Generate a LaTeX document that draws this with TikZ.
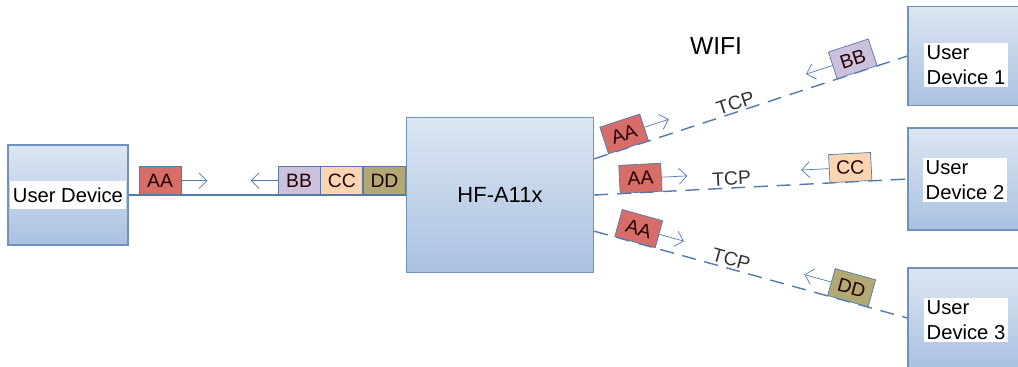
\documentclass[tikz,border=0pt]{standalone}
\usepackage{fontspec}
\setmainfont{Liberation Sans}
\usetikzlibrary{arrows.meta, positioning, calc}

\definecolor{boxedge}{HTML}{7090BE}
\definecolor{boxtop}{HTML}{DCE6F2}
\definecolor{boxbot}{HTML}{A9C1E0}
\definecolor{linkcol}{HTML}{5479AB}
\definecolor{aacol}{HTML}{D66D68}
\definecolor{bbcol}{HTML}{CCC1DD}
\definecolor{cccol}{HTML}{FBD4B2}
\definecolor{ddcol}{HTML}{B1A973}

\begin{document}
\begin{tikzpicture}[
    x=0.02cm, y=-0.02cm,
    every node/.style={font=\fontsize{11}{13}\selectfont},
    box/.style={draw=boxedge, thick, top color=boxtop, bottom color=boxbot, inner sep=0pt},
    devlabel/.style={fill=white, align=left, inner sep=1.5pt, font=\fontsize{11.5}{14}\selectfont},
    pkt/.style={draw=linkcol, solid, thin, text=black!85!red, minimum width=0.84cm, minimum height=0.56cm, inner sep=0pt},
    tcp/.style={text=black!80, inner sep=1pt},
    arrow/.style={-{Straight Barb[length=4.5pt, width=9pt]}, draw=linkcol, solid, thin},
    link/.style={draw=linkcol, thick},
    wifi/.style={link, dash pattern=on 8pt off 5pt}
]
\useasboundingbox (0,0) rectangle (1018,366);

% Devices
\node[box, minimum width=2.4cm, minimum height=2cm] (ud) at (68,195) {};
\node[devlabel, minimum width=2.32cm, minimum height=0.56cm] (udtxt) at (ud) {User Device};
\node[box, minimum width=3.74cm, minimum height=3.1cm, font=\fontsize{12.5}{15}\selectfont] (hf) at (500,195) {HF-A11x};

\node[box, minimum width=2.64cm, minimum height=1.98cm] (ud1) at (974,56) {};
\node[box, minimum width=2.64cm, minimum height=2.04cm] (ud2) at (974,179) {};
\node[box, minimum width=2.64cm, minimum height=2cm] (ud3) at (974,318) {};
\node[devlabel] (ud1txt) at (966,65) {User\\Device 1};
\node[devlabel] (ud2txt) at (965,180) {User\\Device 2};
\node[devlabel] (ud3txt) at (966,320) {User\\Device 3};

\node[font=\fontsize{14}{16}\selectfont] (wifi) at (716,46) {WIFI};

% Wired side
\draw[link] (ud.east) -- (hf.west);
\node[pkt, fill=aacol, anchor=south west, xshift=0.2cm] (aa0) at (ud.east) {AA};
\node[pkt, fill=ddcol, anchor=south east] (dd0) at (hf.west) {DD};
\node[pkt, fill=cccol, left=0pt of dd0] (cc0) {CC};
\node[pkt, fill=bbcol, left=0pt of cc0] (bb0) {BB};
\draw[arrow] (aa0.east) -- ++(26,0);
\draw[arrow] (bb0.west) -- ++(-27,0);

% Wireless side
\draw[wifi] (hf.21) --
    node[pkt, fill=aacol, sloped, anchor=south, pos=0.11] (aa1) {AA}
    node[tcp, sloped, above, pos=0.46] (tcp1) {TCP}
    node[pkt, fill=bbcol, sloped, anchor=south, pos=0.84] (bb1) {BB} (ud1.west);
\draw[wifi] (hf.east) --
    node[pkt, fill=aacol, sloped, anchor=south, pos=0.15] (aa2) {AA}
    node[tcp, sloped, above, pos=0.44] (tcp2) {TCP}
    node[pkt, fill=cccol, sloped, anchor=south, pos=0.82] (cc2) {CC} (ud2.west);
\draw[wifi] (hf.-21) --
    node[pkt, fill=aacol, sloped, anchor=south, pos=0.13] (aa3) {AA}
    node[tcp, sloped, above, pos=0.43] (tcp3) {TCP}
    node[pkt, fill=ddcol, sloped, anchor=south, pos=0.81] (dd3) {DD} (ud3.west);

% Direction arrows
\draw[arrow] (aa1.east) -- ($(aa1.west)!1.6!(aa1.east)$);
\draw[arrow] (aa2.east) -- ($(aa2.west)!1.6!(aa2.east)$);
\draw[arrow] (aa3.east) -- ($(aa3.west)!1.6!(aa3.east)$);
\draw[arrow] (bb1.west) -- ($(bb1.east)!1.65!(bb1.west)$);
\draw[arrow] (cc2.west) -- ($(cc2.east)!1.65!(cc2.west)$);
\draw[arrow] (dd3.west) -- ($(dd3.east)!1.65!(dd3.west)$);

\end{tikzpicture}
\end{document}
